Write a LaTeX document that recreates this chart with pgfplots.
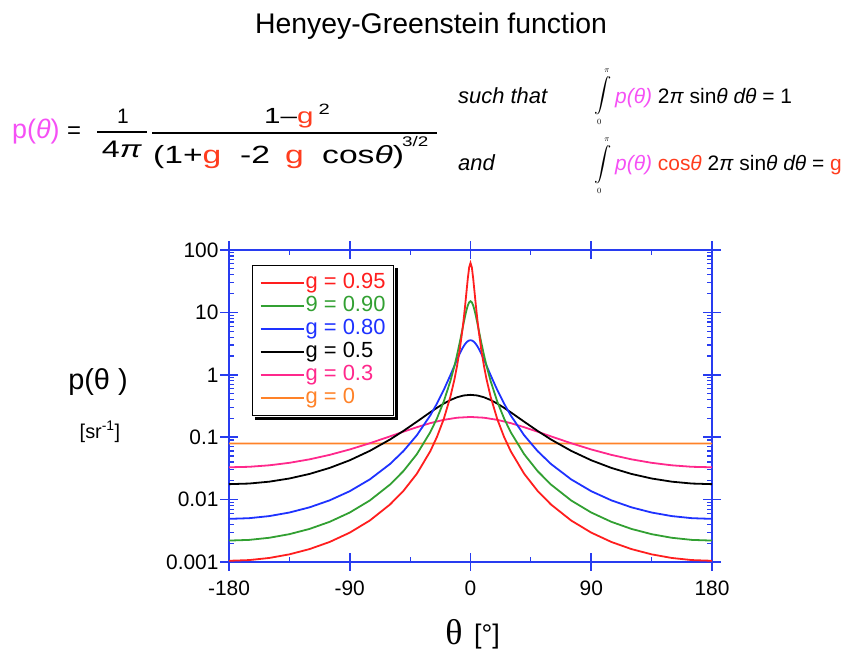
\documentclass[border=0pt]{standalone}
\usepackage{amsmath}
\usepackage{pgfplots}
\pgfplotsset{compat=1.18}
\usepackage{fontspec}
\setmainfont{Liberation Sans}
\newfontfamily\seriff{Liberation Serif}
\usepackage{graphicx}
\definecolor{axblue}{RGB}{40,60,240}
\definecolor{cred}{RGB}{255,30,30}
\definecolor{cgreen}{RGB}{50,160,50}
\definecolor{cblue}{RGB}{30,50,255}
\definecolor{cpink}{RGB}{255,40,140}
\definecolor{corange}{RGB}{255,130,40}
\definecolor{cmag}{RGB}{245,80,245}
\definecolor{gred}{RGB}{255,60,30}
\newcommand{\fs}[1]{\fontsize{#1}{#1}\selectfont}
\newcommand{\sx}[1]{\scalebox{1.35}[1]{#1}}
\begin{document}
\begin{tikzpicture}
\path[use as bounding box] (0,0) rectangle (857bp,-655bp);
\begin{axis}[
  at={(229bp,-562bp)}, anchor=south west,
  scale only axis, width=483bp, height=312bp,
  clip=false,
  ymode=log, xmin=-180, xmax=180, ymin=0.001, ymax=100,
  axis line style={axblue, line width=1.8bp},
  every tick/.style={axblue, line width=1.6bp},
  minor tick style={line width=1.2bp},
  tick align=inside,
  major tick length=9bp, minor tick length=5bp,
  xtick={-180,-90,0,90,180}, xticklabels={-180,-90,0,90,180},
  minor xtick={-135,-45,45,135},
  ytick={0.001,0.01,0.1,1,10,100}, yticklabels={0.001,0.01,0.1,1,10,100},
  minor ytick={0.002,0.003,0.004,0.005,0.006,0.007,0.008,0.009,
    0.02,0.03,0.04,0.05,0.06,0.07,0.08,0.09,
    0.2,0.3,0.4,0.5,0.6,0.7,0.8,0.9,
    2,3,4,5,6,7,8,9,20,30,40,50,60,70,80,90},
  extra x ticks={-180,-90,0,90,180}, extra x tick labels={},
  extra x tick style={tick align=outside, grid=none},
  extra y ticks={0.001,0.01,0.1,1,10,100}, extra y tick labels={},
  extra y tick style={tick align=outside, grid=none},
  xticklabel style={font=\fs{21}, yshift=-15bp},
  yticklabel style={font=\fs{21}, xshift=-7bp},
  legend style={at={(0.048,0.952)}, anchor=north west, draw=black, line width=1.3bp,
    fill=white, font=\fs{22}, inner xsep=7bp, inner ysep=6bp, name=leg,
    nodes={inner sep=1bp, text height=16bp, text depth=5bp}},
  legend cell align=left,
  legend image code/.code={\draw[#1, line width=1.8bp] (0bp,0bp) -- (43bp,0bp);},
  reverse legend,
  every axis plot/.append style={line width=1.8bp},
]
\addplot[corange] coordinates {(-180,0.07958)(-90,0.07957)(0,0.07958)(90,0.07957)(180,0.07958)};
\addlegendentry{\textcolor{corange}{g = 0}}
\addplot[cpink] coordinates {(-180,0.032961)(-165,0.033568)(-150,0.035461)(-135,0.038862)(-120,0.044189)(-105,0.052111)(-90,0.063634)(-75,0.080134)(-60,0.10313)(-50,0.12251)(-40,0.14469)(-30,0.16811)(-20,0.18972)(-10,0.20537)(0,0.21112)(10,0.20537)(20,0.18972)(30,0.16811)(40,0.14469)(50,0.12251)(60,0.10313)(75,0.080134)(90,0.063634)(105,0.052111)(120,0.044189)(135,0.038862)(150,0.035461)(165,0.033568)(180,0.032961)};
\addlegendentry{\textcolor{cpink}{g = 0.3}}
\addplot[black] coordinates {(-180,0.017684)(-165,0.018093)(-150,0.019390)(-135,0.021799)(-120,0.025781)(-105,0.032203)(-90,0.042706)(-75,0.060481)(-60,0.091889)(-50,0.12614)(-40,0.17727)(-30,0.25084)(-25,0.29621)(-20,0.34527)(-15,0.39419)(-10,0.43703)(-5,0.46677)(0,0.47746)(5,0.46677)(10,0.43703)(15,0.39419)(20,0.34527)(25,0.29621)(30,0.25084)(40,0.17727)(50,0.12614)(60,0.091889)(75,0.060481)(90,0.042706)(105,0.032203)(120,0.025781)(135,0.021799)(150,0.019390)(165,0.018093)(180,0.017684)};
\addlegendentry{\textcolor{black}{g = 0.5}}
\addplot[cblue] coordinates {(-180,0.0049122)(-165,0.0050389)(-150,0.0054434)(-135,0.0062094)(-120,0.0075164)(-105,0.0097310)(-90,0.013640)(-75,0.021107)(-60,0.037211)(-50,0.059904)(-40,0.10742)(-30,0.22332)(-25,0.34617)(-20,0.5681)(-15,0.9859)(-12,1.3958)(-10,1.7568)(-8,2.1869)(-6,2.6602)(-5,2.8954)(-4,3.1148)(-3,3.3056)(-2,3.4541)(-1,3.5486)(0,3.581)(1,3.5486)(2,3.4541)(3,3.3056)(4,3.1148)(5,2.8954)(6,2.6602)(8,2.1869)(10,1.7568)(12,1.3958)(15,0.9859)(20,0.5681)(25,0.34617)(30,0.22332)(40,0.10742)(50,0.059904)(60,0.037211)(75,0.021107)(90,0.013640)(105,0.0097310)(120,0.0075164)(135,0.0062094)(150,0.0054434)(165,0.0050389)(180,0.0049122)};
\addlegendentry{\textcolor{cblue}{g = 0.80}}
\addplot[cgreen] coordinates {(-180,0.0022044)(-165,0.0022618)(-150,0.0024453)(-135,0.0027934)(-120,0.0033892)(-105,0.0044037)(-90,0.0062091)(-75,0.0097025)(-60,0.017417)(-50,0.028654)(-40,0.053413)(-30,0.12013)(-25,0.20024)(-20,0.37040)(-15,0.7936)(-12,1.3798)(-10,2.0950)(-8,3.312)(-6,5.402)(-5,6.913)(-4,8.764)(-3,10.863)(-2,12.936)(-1,14.519)(0,15.12)(1,14.519)(2,12.936)(3,10.863)(4,8.764)(5,6.913)(6,5.402)(8,3.312)(10,2.0950)(12,1.3798)(15,0.7936)(20,0.37040)(25,0.20024)(30,0.12013)(40,0.053413)(50,0.028654)(60,0.017417)(75,0.0097025)(90,0.0062091)(105,0.0044037)(120,0.0033892)(135,0.0027934)(150,0.0024453)(165,0.0022618)(180,0.0022044)};
\addlegendentry{\textcolor{cgreen}{9 = 0.90}}
\addplot[cred] coordinates {(-180,0.0010464)(-165,0.0010737)(-150,0.0011610)(-135,0.0013267)(-120,0.0016105)(-105,0.0020943)(-90,0.0029567)(-75,0.0046304)(-60,0.008346)(-50,0.013800)(-40,0.025960)(-30,0.05953)(-25,0.10116)(-20,0.19366)(-15,0.4450)(-12,0.8401)(-10,1.3968)(-8,2.551)(-6,5.291)(-5,8.085)(-4,12.893)(-3,21.28)(-2,35.08)(-1,52.68)(0,62.07)(1,52.68)(2,35.08)(3,21.28)(4,12.893)(5,8.085)(6,5.291)(8,2.551)(10,1.3968)(12,0.8401)(15,0.4450)(20,0.19366)(25,0.10116)(30,0.05953)(40,0.025960)(50,0.013800)(60,0.008346)(75,0.0046304)(90,0.0029567)(105,0.0020943)(120,0.0016105)(135,0.0013267)(150,0.0011610)(165,0.0010737)(180,0.0010464)};
\addlegendentry{\textcolor{cred}{g = 0.95}}
\end{axis}
\draw[black, line width=3bp] ([shift={(2bp,-3bp)}]leg.north east) -- ([shift={(2bp,-2bp)}]leg.south east) -- ([shift={(3bp,-2bp)}]leg.south west);
\begin{scope}[x=1bp,y=-1bp]
\node[anchor=base, font=\fs{28.5}] at (431,33) {Henyey-Greenstein function};
% main formula
\node[anchor=base west, font=\fs{27}, text=cmag, inner sep=0] at (12,138) {p(\textit{θ})};
\node[anchor=base west, font=\fs{24}, inner sep=0] at (67,138) {=};
\node[anchor=base, font=\fs{21}, inner sep=0] at (123,123) {1};
\node[anchor=base, font=\fs{24}, inner sep=0] at (122,157) {\sx{4\textit{π}}};
\draw[line width=1.3bp] (97,132) -- (147,132);
\draw[line width=1.3bp] (152,133) -- (437,133);
\node[anchor=base, font=\fs{22}, inner sep=0] at (297,123) {\sx{1–\textcolor{gred}{g}\,\raisebox{9bp}{\fs{15}2}}};
\node[anchor=base west, font=\fs{25}, inner sep=0] at (153,163) {\sx{(1+\textcolor{gred}{g}}};
\node[anchor=base west, font=\fs{25}, inner sep=0] at (240,163) {\sx{-2}};
\node[anchor=base west, font=\fs{25}, inner sep=0] at (285,163) {\sx{\textcolor{gred}{g}}};
\node[anchor=base west, font=\fs{25}, inner sep=0] at (322,163) {\sx{cos\textit{θ})}};
\node[anchor=base west, font=\fs{14}, inner sep=0] at (402,146) {\sx{3/2}};
% such that
\node[anchor=base west, font=\fs{22}\itshape, inner sep=0] at (458,103) {such that};
\node[font=\fs{17}, inner sep=0] at (603,97) {$\displaystyle\int\limits_{\scriptscriptstyle 0}^{\scriptscriptstyle\pi}$};
\node[anchor=base west, font=\fs{21}, inner sep=0] at (615,103) {\textcolor{cmag}{\textit{p(θ)}} 2\textit{π} sin\textit{θ} \textit{dθ} = 1};
\node[anchor=base west, font=\fs{22}\itshape, inner sep=0] at (458,170) {and};
\node[font=\fs{17}, inner sep=0] at (603,166) {$\displaystyle\int\limits_{\scriptscriptstyle 0}^{\scriptscriptstyle\pi}$};
\node[anchor=base west, font=\fs{21}, inner sep=0] at (615,170) {\textcolor{cmag}{\textit{p(θ)}} \textcolor{gred}{cos\textit{θ}} 2\textit{π} sin\textit{θ} \textit{dθ} = \textcolor{gred}{g}};
% axis labels
\node[font=\fs{29}] at (98,382) {p(θ )};
\node[font=\fs{20}] at (100,432) {[sr\textsuperscript{-1}]};
\node[font=\fs{36}\seriff] at (454,632) {θ};
\node[font=\fs{27}] at (487,637) {[°]};
\end{scope}
\end{tikzpicture}
\end{document}
